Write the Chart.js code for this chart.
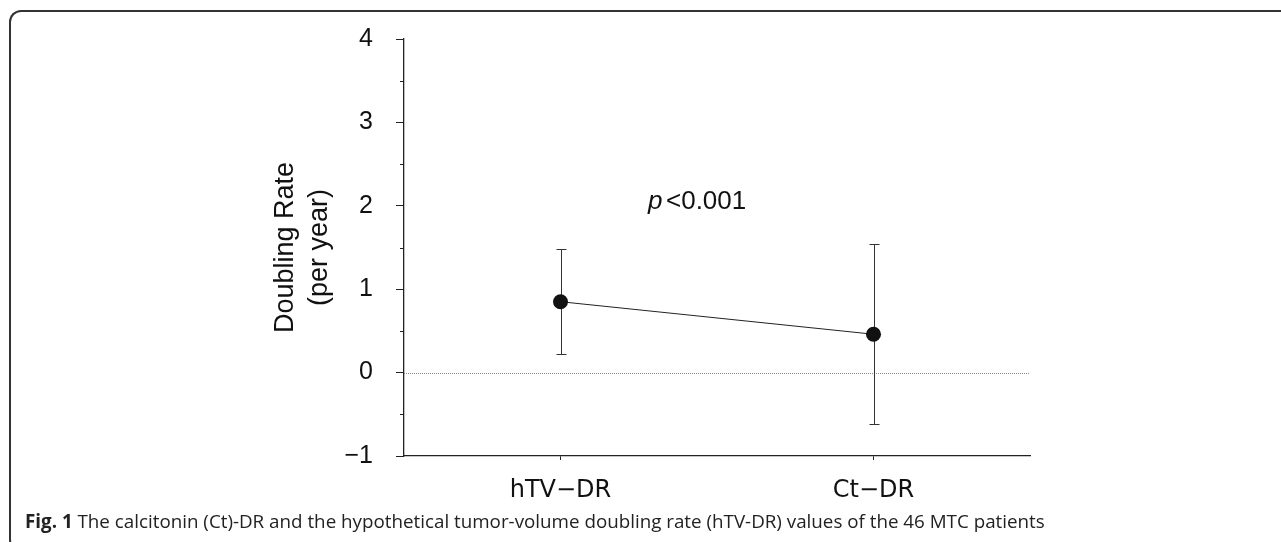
<!DOCTYPE html>
<html>
<head>
<meta charset="utf-8">
<script src="https://cdn.jsdelivr.net/npm/chart.js@4"></script>
<style>
  html, body { margin: 0; padding: 0; background: #fff; width: 1281px; height: 542px; overflow: hidden; }
  #wrap { position: relative; width: 1281px; height: 542px; }
  #chart { position: absolute; left: 0; top: 0; }
  #frame { position: absolute; left: 9px; top: 10px; width: 1400px; height: 540px;
    border-top: 2px solid #333; border-left: 2px solid #333; border-top-left-radius: 12px; border-bottom-left-radius: 12px; }
  #caption { position: absolute; left: 25px; top: 508px; font-family: "Open Sans", sans-serif; font-size: 18.8px;
    color: #222; white-space: nowrap; }
  #caption b { font-weight: 700; }
</style>
</head>
<body>
<div id="wrap">
  <canvas id="chart" width="1281" height="542"></canvas>
  <div id="frame"></div>
  <div id="caption"><b>Fig. 1</b> The calcitonin (Ct)-DR and the hypothetical tumor-volume doubling rate (hTV-DR) values of the 46 MTC patients</div>
</div>
<script>
const categories = ['hTV−DR', 'Ct−DR'];
const means = [0.85, 0.46];
const lower = [0.22, -0.62];
const upper = [1.48, 1.54];
const yTicks = [-1, 0, 1, 2, 3, 4];

const INK = '#222';

// error bars, zero line, minor ticks, axis title and p-value
const extras = {
  id: 'extras',
  beforeDatasetsDraw(chart) {
    const { ctx, chartArea, scales: { x, y } } = chart;
    ctx.save();
    // dotted line at zero
    ctx.strokeStyle = '#888';
    ctx.lineWidth = 1;
    ctx.setLineDash([1, 1]);
    const y0 = Math.round(y.getPixelForValue(0)) + 0.5;
    ctx.beginPath(); ctx.moveTo(chartArea.left, y0); ctx.lineTo(chartArea.right, y0); ctx.stroke();
    ctx.setLineDash([]);

    // error bars
    ctx.strokeStyle = '#333';
    means.forEach((m, i) => {
      const px = Math.round(x.getPixelForValue(i)) + 0.5;
      const yl = y.getPixelForValue(lower[i]);
      const yu = y.getPixelForValue(upper[i]);
      ctx.beginPath();
      ctx.moveTo(px, yl); ctx.lineTo(px, yu);
      ctx.moveTo(px - 5, Math.round(yl) + 0.5); ctx.lineTo(px + 5, Math.round(yl) + 0.5);
      ctx.moveTo(px - 5, Math.round(yu) + 0.5); ctx.lineTo(px + 5, Math.round(yu) + 0.5);
      ctx.stroke();
    });
    ctx.restore();
  },
  afterDraw(chart) {
    const { ctx, chartArea, scales: { x, y } } = chart;
    ctx.save();
    // minor ticks at half units
    ctx.strokeStyle = INK;
    ctx.lineWidth = 1;
    for (let v = -0.5; v < 4; v += 1) {
      const py = Math.round(y.getPixelForValue(v)) + 0.5;
      ctx.beginPath(); ctx.moveTo(chartArea.left - 4, py); ctx.lineTo(chartArea.left, py); ctx.stroke();
    }

    // y axis title, two lines
    ctx.fillStyle = '#111';
    ctx.font = '27px "Liberation Sans", Arial, sans-serif';
    ctx.textAlign = 'center';
    ctx.textBaseline = 'middle';
    const cy = (chartArea.top + chartArea.bottom) / 2;
    ctx.translate(0, cy);
    ctx.rotate(-Math.PI / 2);
    ctx.fillText('Doubling Rate', 0, 286);
    ctx.fillText('(per year)', 0, 320);
    ctx.setTransform(1, 0, 0, 1, 0, 0);

    // p-value annotation
    const mid = (x.getPixelForValue(0) + x.getPixelForValue(1)) / 2;
    const py = y.getPixelForValue(2.05);
    ctx.textAlign = 'left';
    ctx.font = 'italic 26px "Liberation Sans", Arial, sans-serif';
    ctx.fillText('p', mid - 69, py);
    ctx.font = '26px "Liberation Sans", Arial, sans-serif';
    ctx.fillText('<0.001', mid - 51, py);
    ctx.restore();
  }
};

new Chart(document.getElementById('chart'), {
  type: 'line',
  data: {
    labels: categories,
    datasets: [{
      data: means,
      borderColor: INK,
      borderWidth: 1,
      pointRadius: 7.5,
      pointHoverRadius: 7.5,
      pointBackgroundColor: '#111',
      pointBorderWidth: 0,
      tension: 0,
      fill: false
    }]
  },
  options: {
    responsive: false,
    animation: false,
    events: [],
    layout: { padding: { left: 0, top: 39, right: 251, bottom: 0 } },
    plugins: { legend: { display: false }, tooltip: { enabled: false } },
    scales: {
      x: {
        type: 'category',
        offset: true,
        afterFit: s => { s.height = 86; },
        grid: { drawOnChartArea: false, tickLength: 4, color: INK },
        border: { color: INK, width: 1.3 },
        ticks: { color: '#111', padding: 16, font: { family: '"DejaVu Sans", sans-serif', size: 24 } }
      },
      y: {
        min: -1,
        max: 4,
        afterFit: s => { s.width = 404; },
        afterBuildTicks: s => { s.ticks = yTicks.map(v => ({ value: v })); },
        grid: { drawOnChartArea: false, tickLength: 8, color: INK },
        border: { color: INK, width: 1.3 },
        ticks: {
          color: '#111',
          padding: 23,
          autoSkip: false,
          font: { family: '"Liberation Sans", Arial, sans-serif', size: 25 },
          callback: v => v < 0 ? '−' + Math.abs(v) : String(v)
        }
      }
    }
  },
  plugins: [extras]
});
</script>
</body>
</html>
